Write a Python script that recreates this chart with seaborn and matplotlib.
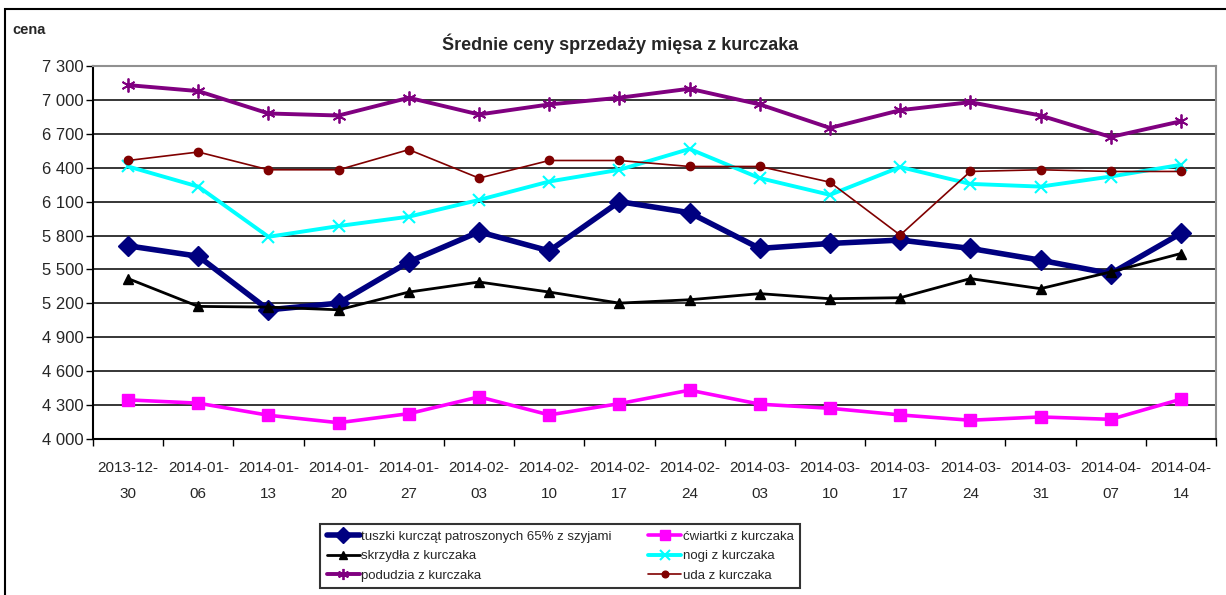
import numpy as np
import pandas as pd
import seaborn as sns
import matplotlib.pyplot as plt
from matplotlib.patches import Rectangle
from matplotlib.ticker import FuncFormatter

daty = ["2013-12-\n30", "2014-01-\n06", "2014-01-\n13", "2014-01-\n20", "2014-01-\n27",
        "2014-02-\n03", "2014-02-\n10", "2014-02-\n17", "2014-02-\n24", "2014-03-\n03",
        "2014-03-\n10", "2014-03-\n17", "2014-03-\n24", "2014-03-\n31", "2014-04-\n07",
        "2014-04-\n14"]

tuszki = [5709, 5617, 5143, 5202, 5567, 5833, 5664, 6100, 6002, 5686, 5730, 5760, 5686, 5582, 5463, 5819]
cwiartki = [4346, 4317, 4210, 4144, 4224, 4373, 4213, 4313, 4432, 4308, 4272, 4213, 4166, 4195, 4174, 4352]
skrzydla = [5419, 5173, 5167, 5143, 5300, 5389, 5300, 5202, 5232, 5286, 5241, 5250, 5419, 5330, 5478, 5641]
nogi = [6411, 6233, 5789, 5884, 5967, 6115, 6278, 6382, 6566, 6308, 6160, 6406, 6257, 6233, 6322, 6426]
podudzia = [7131, 7078, 6880, 6862, 7019, 6871, 6960, 7019, 7099, 6960, 6752, 6909, 6980, 6862, 6672, 6811]
uda = [6464, 6539, 6382, 6382, 6560, 6308, 6464, 6464, 6411, 6411, 6272, 5804, 6367, 6382, 6367, 6367]

nazwy = ["tuszki kurcząt patroszonych 65% z szyjami", "ćwiartki z kurczaka", "skrzydła z kurczaka",
         "nogi z kurczaka", "podudzia z kurczaka", "uda z kurczaka"]

sns.set_style("white")
plt.rcParams['font.family'] = ['Liberation Sans', 'DejaVu Sans']

fig = plt.figure(figsize=(12.26, 5.95), dpi=100)
ax = fig.add_axes([93/1226, 1 - 439/595, (1216-93)/1226, (439-66)/595])

x = np.arange(len(daty))
serie = [tuszki, cwiartki, skrzydla, nogi, podudzia, uda]
style = [
    dict(color="#000080", lw=4.0, marker="D", ms=10),
    dict(color="#ff00ff", lw=2.6, marker="s", ms=9),
    dict(color="black", lw=2.0, marker="^", ms=7),
    dict(color="#00ffff", lw=2.8, marker="x", ms=9, mew=1.5),
    dict(color="#800080", lw=2.8, marker=(6, 2, 0), ms=10, mew=1.3),
    dict(color="#800000", lw=1.2, marker="o", ms=6),
]
for nazwa, y, st in zip(nazwy, serie, style):
    df = pd.DataFrame({"data": x, "cena": y})
    sns.lineplot(data=df, x="data", y="cena", ax=ax, color=st["color"], linewidth=st["lw"],
                 marker=st["marker"], markersize=st["ms"], markeredgewidth=st.get("mew", 1),
                 markeredgecolor=st["color"], markerfacecolor=st["color"], label=nazwa, legend=False)

ax.set_xlim(-0.5, len(daty) - 0.5)
ax.set_ylim(4000, 7300)
ax.set_yticks(np.arange(4000, 7301, 300))
ax.yaxis.set_major_formatter(FuncFormatter(lambda v, p: f"{int(v):,}".replace(",", " ")))
ax.grid(axis="y", color="black", lw=1.1)
ax.set_axisbelow(True)

ax.set_xticks(x)
ax.set_xticklabels(daty, linespacing=2.1)
ax.set_xticks(np.arange(-0.5, len(daty)), minor=True)
ax.tick_params(axis="x", which="major", length=0, pad=16, labelsize=11)
ax.tick_params(axis="x", which="minor", length=5, width=1, color="black", direction="out", bottom=True)
ax.tick_params(axis="y", length=5, width=1, color="black", direction="out", left=True, labelsize=12, pad=2)
ax.set_xlabel("")
ax.set_ylabel("")

for s in ["left", "bottom"]:
    ax.spines[s].set_color("black")
    ax.spines[s].set_linewidth(1.5)
for s in ["top", "right"]:
    ax.spines[s].set_color("#909090")
    ax.spines[s].set_linewidth(1.5)

fig.text(620/1226, 1 - 44/595, "Średnie ceny sprzedaży mięsa z kurczaka", ha="center", va="center",
         fontsize=13, fontweight="bold")
fig.text(12/1226, 1 - 30/595, "cena", ha="left", va="center", fontsize=10.5, fontweight="bold")

fig.patches.append(Rectangle((5/1226, -0.1), 1.2, 1 - 9/595 + 0.1, transform=fig.transFigure,
                             fill=False, edgecolor="black", lw=1.5))

h, l = ax.get_legend_handles_labels()
kolejnosc = [0, 2, 4, 1, 3, 5]
leg = fig.legend([h[i] for i in kolejnosc], [l[i] for i in kolejnosc], ncol=2,
                 loc="upper left", bbox_to_anchor=(320/1226, 1 - 524/595),
                 fontsize=9.5, frameon=True, fancybox=False, edgecolor="black",
                 handlelength=2.5, columnspacing=2.8, labelspacing=0.55, borderpad=0.5,
                 handletextpad=0.1, borderaxespad=0)
leg.get_frame().set_linewidth(1.5)
for lh in leg.get_lines():
    lh.set_markersize(lh.get_markersize() * 0.8)

fig.savefig("out.png", dpi=100)
